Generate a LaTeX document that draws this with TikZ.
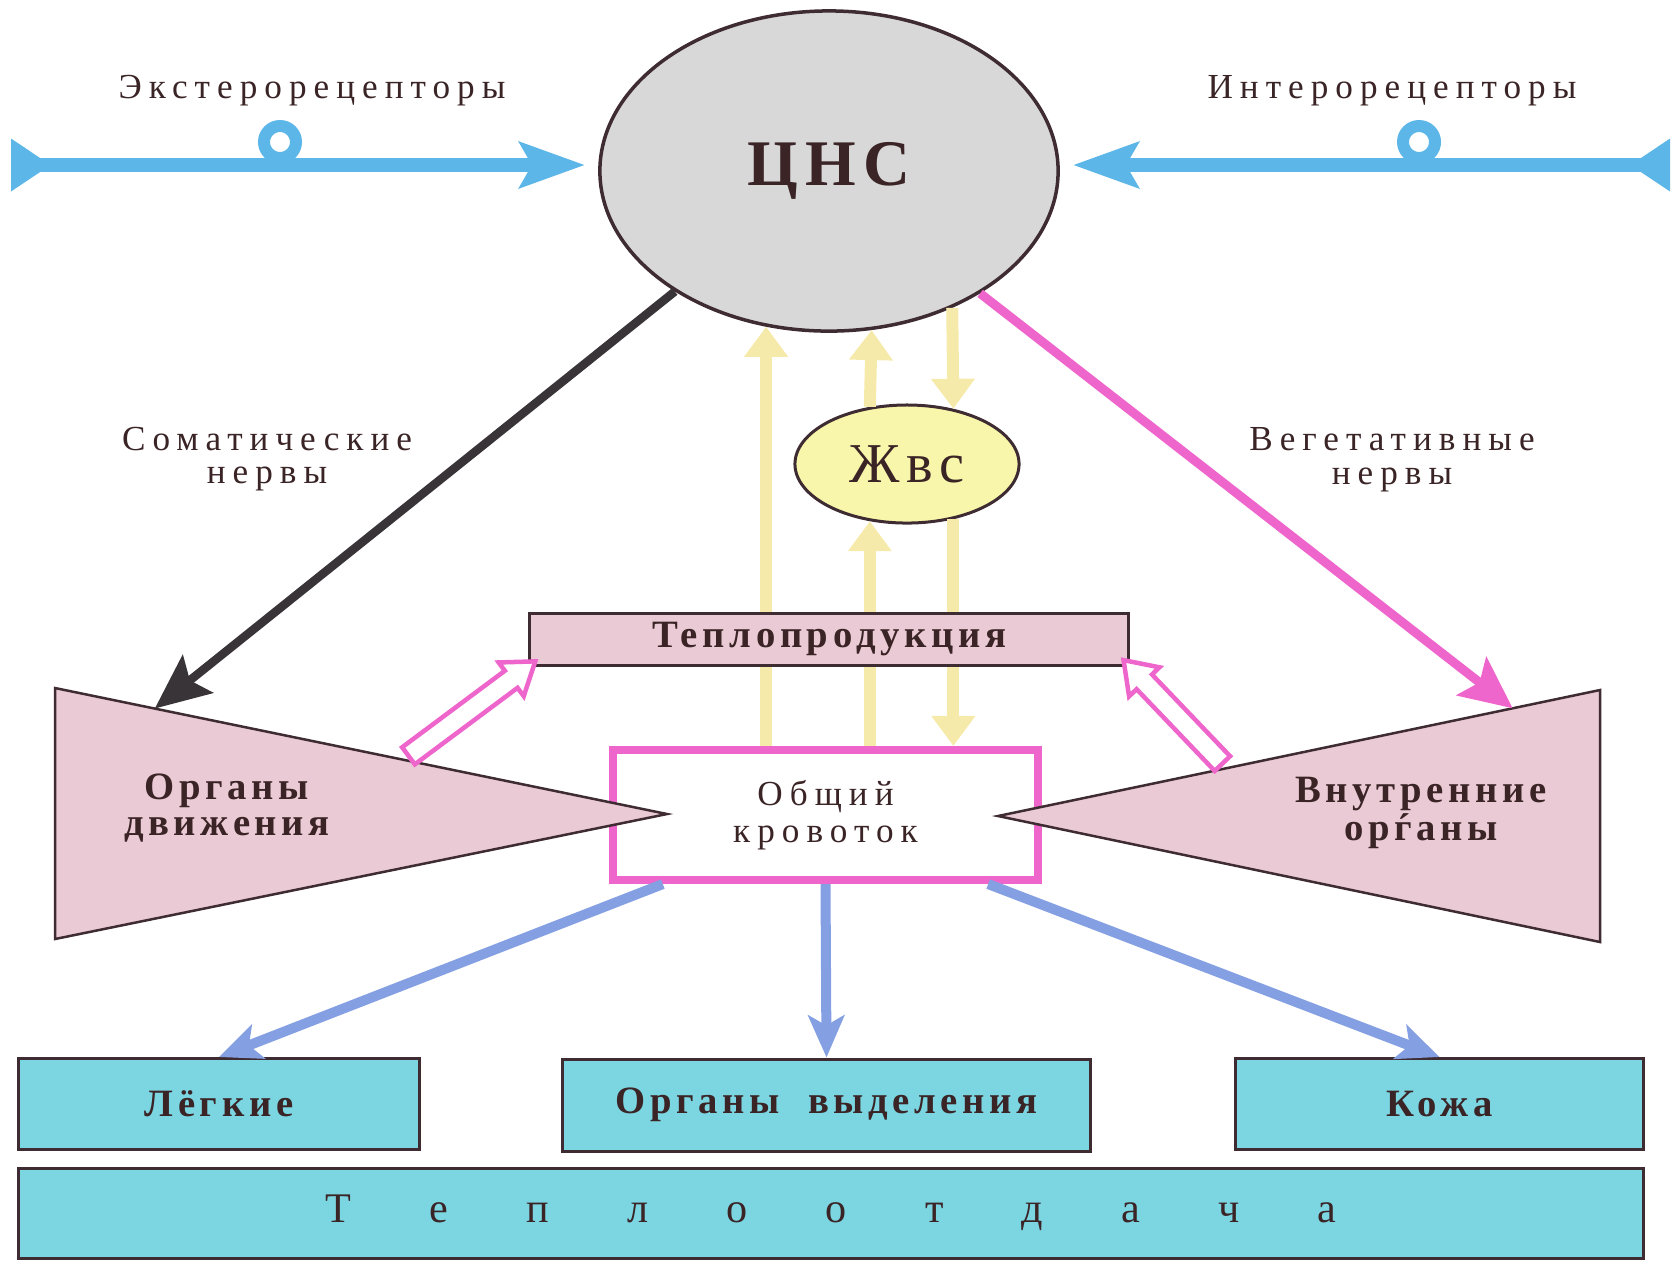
\documentclass[tikz,border=0pt]{standalone}
\usepackage{fontspec}
\setmainfont{Liberation Serif}
\newfontfamily\spcd[LetterSpace=20]{Liberation Serif}
\newfontfamily\spcb[LetterSpace=12]{Liberation Serif}
\usepackage{tikz}
\usetikzlibrary{arrows.meta,positioning,shapes.geometric,shapes.arrows,calc}

\definecolor{cnsgray}{RGB}{216,216,216}
\definecolor{edge}{RGB}{62,44,50}
\definecolor{somgray}{RGB}{56,52,56}
\definecolor{recblue}{RGB}{92,182,232}
\definecolor{bloodblue}{RGB}{132,160,226}
\definecolor{hum}{RGB}{246,234,170}
\definecolor{vegpink}{RGB}{238,102,204}
\definecolor{organpink}{RGB}{234,202,212}
\definecolor{zhvsyel}{RGB}{248,246,170}
\definecolor{heatcyan}{RGB}{124,214,226}
\definecolor{ink}{RGB}{58,36,38}

\begin{document}
\begin{tikzpicture}[x=0.01cm,y=-0.01cm,
  every node/.style={text=ink}
]

\tikzstyle{boxc}=[draw=edge,line width=0.03cm,fill=heatcyan,inner sep=0pt]
\tikzset{lab/.style={font=\spcd\fontsize{10}{9.6}\selectfont,align=center}}
\tikzset{labb/.style={font=\spcb\fontsize{11}{10}\selectfont\bfseries,align=center}}
\tikzset{recep/.style={draw=recblue,line width=0.14cm,
  {Triangle[reversed,length=0.4cm,width=0.5cm]}-{Stealth[length=0.65cm,width=0.45cm,inset=0.12cm]}}}
\tikzset{humor/.style={draw=hum,line width=0.12cm,-{Triangle[length=0.3cm,width=0.42cm]}}}
\tikzset{flow/.style={draw=bloodblue,line width=0.1cm,-{Stealth[length=0.42cm,width=0.36cm,inset=0.1cm]}}}
\tikzset{hollow/.style={single arrow,draw=vegpink,line width=0.045cm,fill=white,
  inner xsep=0pt,inner ysep=0.08cm,minimum width=0.42cm,single arrow head extend=0.1cm,
  single arrow tip angle=70,sloped,allow upside down}}
\tikzset{organ/.style={draw=edge,line width=0.025cm,fill=organpink}}

\useasboundingbox (0,0) rectangle (1673,1262);

% nervous centre and receptors
\node[ellipse,draw=edge,line width=0.035cm,fill=cnsgray,minimum width=4.58cm,minimum height=3.2cm]
  (cns) at (829,171) {\spcb\fontsize{18.5}{20}\selectfont\bfseries ЦНС};
\node[lab] (exttxt) at (312,91) {Экстерорецепторы};
\node[lab] (inttxt) at (1392,91) {Интерорецепторы};
\coordinate (ext) at (11,165);
\coordinate (int) at (1670,165);
\draw[recep,shorten >=0.13cm] (ext) -- (ext -| cns.west);
\draw[recep,shorten >=0.13cm] (int) -- (int -| cns.east);
\draw[recblue,line width=0.12cm] (280,142) circle[radius=0.16cm];
\draw[recblue,line width=0.12cm] (1419,142) circle[radius=0.16cm];

\node[lab] (somtxt) at (267,459) {Соматические\\нервы};
\node[lab] (vegtxt) at (1392,460) {Вегетативные\\нервы};

% humoral part
\node[ellipse,draw=edge,line width=0.03cm,fill=zhvsyel,minimum width=2.24cm,minimum height=1.18cm]
  (zhvs) at (907,464) {\spcb\fontsize{16}{18}\selectfont Жвс};
\node[draw=vegpink,line width=0.08cm,fill=white,minimum width=4.25cm,minimum height=1.3cm,lab,
  font=\spcd\fontsize{10}{10.5}\selectfont]
  (blood) at (825.5,815) {Общий\\кровоток};

\draw[humor] (blood.north -| cns.-112) -- (cns.-112);
\draw[humor] (blood.north -| zhvs.-123) -- (zhvs.-123);
\draw[humor] (zhvs.123) -- (cns.-75);
\draw[humor] (cns.-48) -- (zhvs.50);
\draw[humor] (zhvs.-50) -- (blood.north -| zhvs.-50);

\node[draw=edge,line width=0.03cm,fill=organpink,minimum width=5.98cm,minimum height=0.52cm,
  inner sep=0pt,labb] (heatprod) at (829,639) {Теплопродукция};

% organs
\coordinate (mt) at (55,688);
\coordinate (mb) at (55,939);
\coordinate (mtip) at (667,814);
\filldraw[organ] (mt) -- (mtip) -- (mb) -- cycle;
\node[labb] (motor) at (227,808) {Органы\\движения};

\coordinate (vt) at (1600,690);
\coordinate (vb) at (1600,942);
\coordinate (vtip) at (998,816);
\filldraw[organ] (vt) -- (vtip) -- (vb) -- cycle;
\node[labb] (visc) at (1421,813) {Внутренние\\орѓаны};

\coordinate (somend) at ($(mt)!0.163!(mtip)$);
\coordinate (vegend) at ($(vt)!0.145!(vtip)$);
\draw[draw=somgray,line width=0.085cm,-{Stealth[length=0.55cm,width=0.48cm,inset=0.1cm]}]
  (cns.-142) -- (somend);
\draw[draw=vegpink,line width=0.09cm,-{Stealth[length=0.52cm,width=0.48cm,inset=0.1cm]}]
  (cns.-39) -- (vegend);

\coordinate (hl) at ($(mt)!0.569!(mtip)$);
\coordinate (hr) at ($(vt)!0.62!(vtip)$);
\path (hl) -- node[hollow,minimum height=1.58cm] (hla) {} (heatprod.south west);
\path (hr) -- node[hollow,minimum height=1.43cm] (hra) {} (heatprod.south east);

% heat loss
\node[boxc,minimum width=4.0cm,minimum height=0.91cm,labb] (lungs) at (219,1104) {Лёгкие};
\node[boxc,minimum width=5.27cm,minimum height=0.92cm,labb] (excr) at (826.5,1105) {Органы\ \ выделения};
\node[boxc,minimum width=4.07cm,minimum height=0.91cm,labb] (skin) at (1439.5,1104) {Кожа};
\node[boxc,minimum width=16.24cm,minimum height=0.9cm,font=\fontsize{12}{13}\selectfont]
  (heatloss) at (831,1213)
  {\makebox[10.1cm][s]{Т\hfil е\hfil п\hfil л\hfil о\hfil о\hfil т\hfil д\hfil а\hfil ч\hfil а}};

\draw[flow] (blood.-157) -- (lungs.north);
\draw[flow] (blood.south) -- (excr.north);
\draw[flow] (blood.-23) -- (skin.north);

\end{tikzpicture}
\end{document}
